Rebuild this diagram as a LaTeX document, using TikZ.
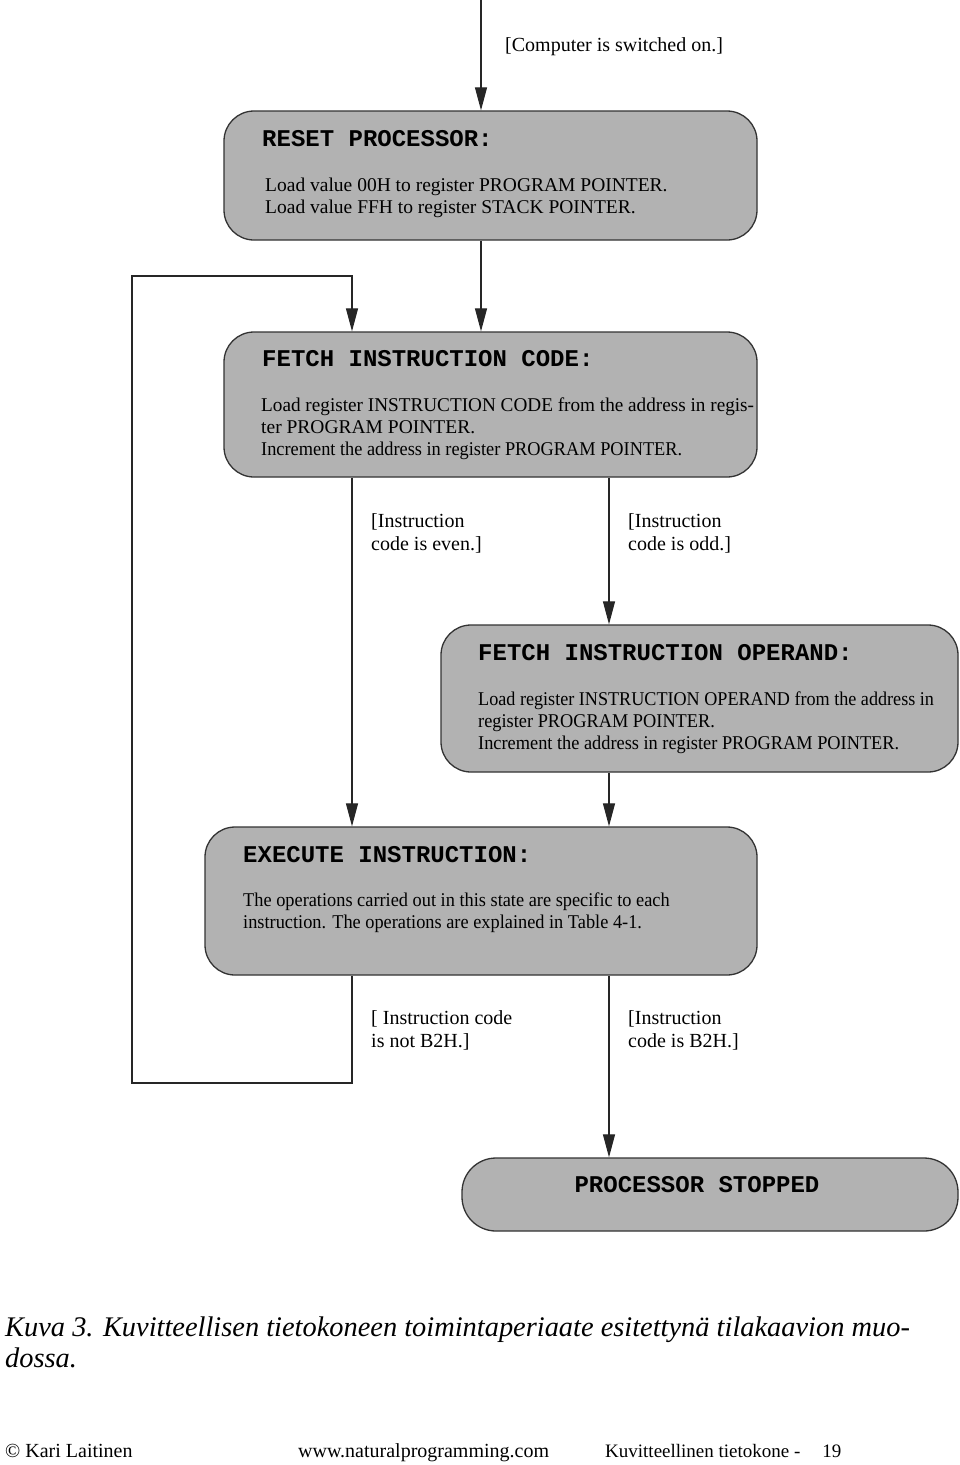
\documentclass[tikz,border=0pt]{standalone}
\usepackage{fontspec}
\setmainfont{Liberation Serif}
\setmonofont{Liberation Mono}
\usetikzlibrary{arrows.meta}

\newcommand{\squeeze}[2][0.94]{\scalebox{#1}[1]{#2}}

\begin{document}
\begin{tikzpicture}[x=1pt, y=-1pt,
    state/.style={draw=black!80, line width=1.3pt, fill=black!30, rounded corners=30pt, inner sep=0pt},
    arr/.style={draw=black!85, line width=1.2pt, -{Triangle[length=23pt,width=12pt]}},
    head/.style={anchor=base west, inner sep=0pt, font=\fontsize{24}{28}\selectfont\ttfamily\bfseries},
    body/.style={anchor=base west, inner sep=0pt, align=left, font=\fontsize{19.5}{22}\selectfont},
    guard/.style={anchor=base west, inner sep=0pt, align=left, font=\fontsize{20}{23}\selectfont}]
  \useasboundingbox (0,0) rectangle (960,1465);

  \coordinate (on) at (481,0);
  \coordinate (left) at (352,0);
  \coordinate (right) at (609,0);
  \coordinate (loopbot) at (132,1083);
  \coordinate (looptop) at (132,276);

  \node [state, minimum width=533pt, minimum height=129pt] (reset) at (490.5,175.5) {};
  \node [state, minimum width=533pt, minimum height=145pt] (fcode) at (490.5,404.5) {};
  \node [state, minimum width=517pt, minimum height=147pt] (fop) at (699.5,698.5) {};
  \node [state, minimum width=552pt, minimum height=148pt] (exec) at (481,901) {};
  \node [state, rounded corners=34pt, minimum width=496pt, minimum height=73pt] (stop) at (710,1194.5) {};

  % texts: anchor is the baseline of the last line
  \node [guard] (onlabel) at (505,51) {[Computer is switched on.]};

  \node [head] (resethead) at (262,146) {RESET PROCESSOR:};
  \node [body] (resettext) at (265,213) {Load value 00H to register PROGRAM POINTER.\\
    Load value FFH to register STACK POINTER.};

  \node [head] (fcodehead) at (262,366) {FETCH INSTRUCTION CODE:};
  \node [body] (fcodetext) at (261,455) {\squeeze[0.985]{Load register INSTRUCTION CODE from the address in regis-}\\
    ter PROGRAM POINTER.\\
    \squeeze{Increment the address in register PROGRAM POINTER.}};

  \node [guard] (even) at (371,550) {[Instruction\\ code is even.]};
  \node [guard] (odd) at (628,550) {[Instruction\\ code is odd.]};

  \node [head] (fophead) at (478,660) {FETCH INSTRUCTION OPERAND:};
  \node [body] (foptext) at (478,749) {\squeeze[0.93]{Load register INSTRUCTION OPERAND from the address in}\\
    \squeeze{register PROGRAM POINTER.}\\
    \squeeze{Increment the address in register PROGRAM POINTER.}};

  \node [head] (exechead) at (243,862) {EXECUTE INSTRUCTION:};
  \node [body] (exectext) at (243,928) {\squeeze{The operations carried out in this state are specific to each}\\
    \squeeze{instruction. The operations are explained in Table 4-1.}};

  \node [guard] (notb2h) at (371,1047) {[ Instruction code\\ is not B2H.]};
  \node [guard] (isb2h) at (628,1047) {[Instruction\\ code is B2H.]};

  \node [head, anchor=base] (stoptext) at (697,1192) {PROCESSOR STOPPED};

  \draw [arr] (on) -- (on |- reset.north);
  \draw [arr] (on |- reset.south) -- (on |- fcode.north);
  \draw [arr] (left |- exec.south) |- (loopbot) -- (looptop) -| (left |- fcode.north);
  \draw [arr] (left |- fcode.south) -- (left |- exec.north);
  \draw [arr] (right |- fcode.south) -- (right |- fop.north);
  \draw [arr] (right |- fop.south) -- (right |- exec.north);
  \draw [arr] (right |- exec.south) -- (right |- stop.north);

  \node [anchor=base west, inner sep=0pt, align=left, font=\fontsize{28.4}{31}\selectfont\itshape] (caption) at (5,1367)
    {Kuva 3. Kuvitteellisen tietokoneen toimintaperiaate esitettynä tilakaavion muo-\\ dossa.};

  \node [anchor=base west, inner sep=0pt, font=\fontsize{20}{22}\selectfont] (author) at (5,1457) {© Kari Laitinen};
  \node [anchor=base west, inner sep=0pt, font=\fontsize{20}{22}\selectfont] (site) at (298,1457) {www.naturalprogramming.com};
  \node [anchor=base west, inner sep=0pt, font=\fontsize{19}{22}\selectfont] (page) at (605,1457) {Kuvitteellinen tietokone -\hspace{22pt}19};
\end{tikzpicture}
\end{document}
